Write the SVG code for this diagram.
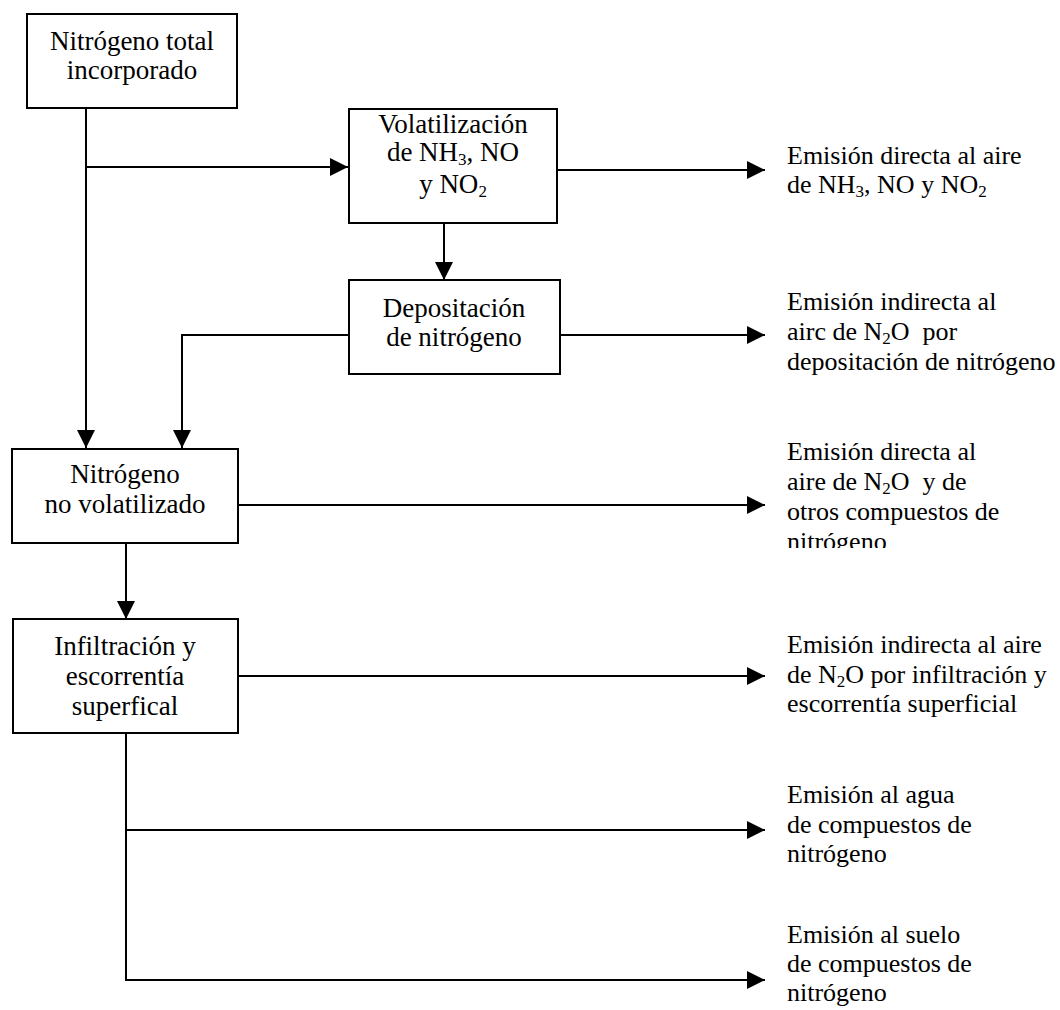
<svg xmlns="http://www.w3.org/2000/svg" width="1060" height="1010" viewBox="0 0 1060 1010">
  <style>
    .box { fill: #ffffff; stroke: #000000; stroke-width: 2; }
    .lbl { font-family: "Liberation Serif", "Times New Roman", serif; font-size: 27px; fill: #000000; }
    .mid { text-anchor: middle; }
    .out { text-anchor: start; white-space: pre; font-size: 26px; }
    .wire { fill: none; stroke: #000000; stroke-width: 2; }
    .sub { font-size: 17px; }
  </style>
  <defs>
    <marker id="head" markerUnits="userSpaceOnUse" markerWidth="18" markerHeight="18" refX="18" refY="9" orient="auto">
      <path d="M0,0 L18,9 L0,18 Z" fill="#000000"/>
    </marker>
    <clipPath id="cut-n">
      <rect x="780" y="430" width="280" height="118"/>
    </clipPath>
  </defs>

  <rect width="1060" height="1010" fill="#ffffff"/>

  <!-- connectors -->
  <g id="connectors">
    <path class="wire" d="M86,108 V448" marker-end="url(#head)"/>
    <path class="wire" d="M86,167 H348" marker-end="url(#head)"/>
    <path class="wire" d="M557,170 H765" marker-end="url(#head)"/>
    <path class="wire" d="M444,223 V280" marker-end="url(#head)"/>
    <path class="wire" d="M349,335 H182 V448" marker-end="url(#head)"/>
    <path class="wire" d="M560,335 H765" marker-end="url(#head)"/>
    <path class="wire" d="M238,505 H765" marker-end="url(#head)"/>
    <path class="wire" d="M126,543 V619" marker-end="url(#head)"/>
    <path class="wire" d="M238,676 H765" marker-end="url(#head)"/>
    <path class="wire" d="M126,733 V980 H765" marker-end="url(#head)"/>
    <path class="wire" d="M126,830 H765" marker-end="url(#head)"/>
  </g>

  <!-- process boxes -->
  <g id="n-total">
    <rect class="box" x="27" y="14" width="210" height="94"/>
    <text class="lbl mid" x="132" y="50">Nitrógeno total</text>
    <text class="lbl mid" x="132" y="79">incorporado</text>
  </g>

  <g id="volatilizacion">
    <rect class="box" x="349" y="109" width="208" height="114"/>
    <text class="lbl mid" x="453" y="133">Volatilización</text>
    <text class="lbl mid" x="453" y="161">de NH<tspan class="sub" dy="4">3</tspan><tspan dy="-4">, NO</tspan></text>
    <text class="lbl mid" x="453" y="193">y NO<tspan class="sub" dy="4">2</tspan></text>
  </g>

  <g id="depositacion">
    <rect class="box" x="349" y="280" width="211" height="94"/>
    <text class="lbl mid" x="454" y="317">Depositación</text>
    <text class="lbl mid" x="454" y="346">de nitrógeno</text>
  </g>

  <g id="no-volatilizado">
    <rect class="box" x="12" y="449" width="226" height="94"/>
    <text class="lbl mid" x="125" y="483">Nitrógeno</text>
    <text class="lbl mid" x="125" y="513">no volatilizado</text>
  </g>

  <g id="infiltracion">
    <rect class="box" x="13" y="619" width="225" height="114"/>
    <text class="lbl mid" x="125" y="655">Infiltración y</text>
    <text class="lbl mid" x="125" y="685">escorrentía</text>
    <text class="lbl mid" x="125" y="715">superfical</text>
  </g>

  <!-- emission labels -->
  <g id="e-directa-nh3">
    <text class="lbl out" x="787" y="164">Emisión directa al aire</text>
    <text class="lbl out" x="787" y="193">de NH<tspan class="sub" dy="4">3</tspan><tspan dy="-4">, NO y NO</tspan><tspan class="sub" dy="4">2</tspan></text>
  </g>

  <g id="e-indirecta-dep">
    <text class="lbl out" x="787" y="310">Emisión indirecta al</text>
    <text class="lbl out" x="787" y="340">airc de N<tspan class="sub" dy="4">2</tspan><tspan dy="-4">O  por</tspan></text>
    <text class="lbl out" x="787" y="370">depositación de nitrógeno</text>
  </g>

  <g id="e-directa-n2o">
    <text class="lbl out" x="787" y="460">Emisión directa al</text>
    <text class="lbl out" x="787" y="490">aire de N<tspan class="sub" dy="4">2</tspan><tspan dy="-4">O  y de</tspan></text>
    <text class="lbl out" x="787" y="520">otros compuestos de</text>
    <text class="lbl out" x="787" y="550" clip-path="url(#cut-n)">nitrógeno</text>
  </g>

  <g id="e-indirecta-inf">
    <text class="lbl out" x="787" y="653">Emisión indirecta al aire</text>
    <text class="lbl out" x="787" y="683">de N<tspan class="sub" dy="4">2</tspan><tspan dy="-4">O por infiltración y</tspan></text>
    <text class="lbl out" x="787" y="712">escorrentía superficial</text>
  </g>

  <g id="e-agua">
    <text class="lbl out" x="787" y="803">Emisión al agua</text>
    <text class="lbl out" x="787" y="833">de compuestos de</text>
    <text class="lbl out" x="787" y="862">nitrógeno</text>
  </g>

  <g id="e-suelo">
    <text class="lbl out" x="787" y="943">Emisión al suelo</text>
    <text class="lbl out" x="787" y="972">de compuestos de</text>
    <text class="lbl out" x="787" y="1001">nitrógeno</text>
  </g>
</svg>
